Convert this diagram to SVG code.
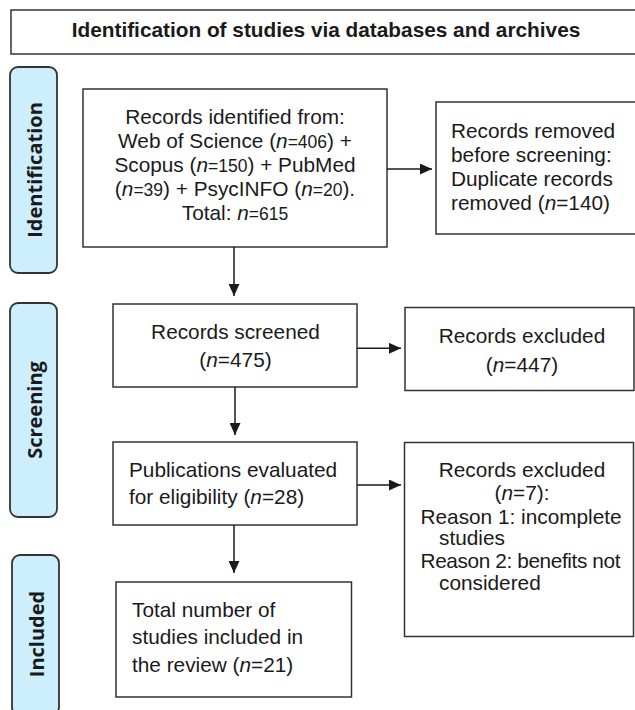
<svg xmlns="http://www.w3.org/2000/svg" width="635" height="710" viewBox="0 0 635 710">
<defs>
<marker id="ah" markerWidth="12" markerHeight="11" refX="12" refY="5.5" orient="auto" markerUnits="userSpaceOnUse">
<path d="M0,0 L12,5.5 L0,11 Z" fill="#1a1a1a"/>
</marker>
<style>
.box{fill:#fff;stroke:#333;stroke-width:1.5}
.tab{fill:#cdeefd;stroke:#333;stroke-width:1.8}
.t{font-family:"Liberation Sans",Arial,sans-serif;font-size:20.8px;fill:#1a1a1a}
.c{text-anchor:middle}
.tt{font-family:"Liberation Sans",Arial,sans-serif;font-size:20.8px;font-weight:bold;fill:#1a1a1a;text-anchor:middle}
.tb{font-family:"Open Sans",sans-serif;font-size:20px;font-weight:bold;fill:#1a1a1a;text-anchor:middle}
.s{font-size:17.5px}
.i{font-style:italic}
.ln{stroke:#1a1a1a;stroke-width:1.5;fill:none}
</style>
</defs>
<rect width="635" height="710" fill="#fff"/>

<g id="title">
<rect class="box" x="11" y="10" width="640" height="44"/>
<text class="tt" x="326" y="37">Identification of studies via databases and archives</text>
</g>

<g id="tab-identification">
<rect class="tab" x="10" y="67" width="47" height="206" rx="8"/>
<text class="tb" transform="translate(41.5,170) rotate(-90)">Identification</text>
</g>
<g id="tab-screening">
<rect class="tab" x="10" y="303" width="47" height="214" rx="8"/>
<text class="tb" transform="translate(41.5,410) rotate(-90)">Screening</text>
</g>
<g id="tab-included">
<rect class="tab" x="12" y="555" width="47" height="160" rx="8"/>
<text class="tb" transform="translate(43.5,634) rotate(-90)">Included</text>
</g>

<g id="identified">
<rect class="box" x="83" y="89" width="304" height="158"/>
<text class="t c" x="235" y="124">Records identified from:</text>
<text class="t c" x="235" y="148">Web of Science (<tspan class="i">n</tspan><tspan class="s">=406</tspan>) +</text>
<text class="t c" x="235" y="172">Scopus (<tspan class="i">n</tspan><tspan class="s">=150</tspan>) + PubMed</text>
<text class="t c" x="235" y="196">(<tspan class="i">n</tspan><tspan class="s">=39</tspan>) + PsycINFO (<tspan class="i">n</tspan><tspan class="s">=20</tspan>).</text>
<text class="t c" x="235" y="220">Total: <tspan class="i">n</tspan><tspan class="s">=615</tspan></text>
</g>

<g id="removed">
<rect class="box" x="436" y="102" width="210" height="132"/>
<text class="t" x="451" y="138">Records removed</text>
<text class="t" x="451" y="162">before screening:</text>
<text class="t" x="451" y="186">Duplicate records</text>
<text class="t" x="451" y="210">removed (<tspan class="i">n</tspan>=140)</text>
</g>

<g id="screened">
<rect class="box" x="113" y="304" width="244" height="83"/>
<text class="t c" x="235.5" y="339">Records screened</text>
<text class="t c" x="235.5" y="367">(<tspan class="i">n</tspan>=475)</text>
</g>

<g id="excluded1">
<rect class="box" x="405" y="307.5" width="229" height="83"/>
<text class="t c" x="522" y="342.5">Records excluded</text>
<text class="t c" x="522" y="371.5">(<tspan class="i">n</tspan>=447)</text>
</g>

<g id="eligibility">
<rect class="box" x="113" y="442" width="244" height="83"/>
<text class="t" x="129" y="477">Publications evaluated</text>
<text class="t" x="129" y="504">for eligibility (<tspan class="i">n</tspan>=28)</text>
</g>

<g id="excluded2">
<rect class="box" x="404.5" y="442.5" width="229" height="194"/>
<text class="t c" x="522" y="476.5">Records excluded</text>
<text class="t c" x="522" y="500">(<tspan class="i">n</tspan>=7):</text>
<text class="t" x="420.5" y="524">Reason 1: incomplete</text>
<text class="t" x="439" y="545">studies</text>
<text class="t" x="420.5" y="568" textLength="200">Reason 2: benefits not</text>
<text class="t" x="439" y="590">considered</text>
</g>

<g id="included">
<rect class="box" x="116" y="582" width="235.5" height="115"/>
<text class="t" x="132" y="617">Total number of</text>
<text class="t" x="132" y="644">studies included in</text>
<text class="t" x="132" y="672">the review (<tspan class="i">n</tspan>=21)</text>
</g>

<g id="connectors">
<line class="ln" x1="387" y1="169" x2="432" y2="169" marker-end="url(#ah)"/>
<line class="ln" x1="234" y1="247" x2="234" y2="296" marker-end="url(#ah)"/>
<line class="ln" x1="357" y1="348.3" x2="401" y2="348.3" marker-end="url(#ah)"/>
<line class="ln" x1="235" y1="387" x2="235" y2="435" marker-end="url(#ah)"/>
<line class="ln" x1="357" y1="485" x2="401" y2="485" marker-end="url(#ah)"/>
<line class="ln" x1="234" y1="525" x2="234" y2="573" marker-end="url(#ah)"/>
</g>
</svg>
